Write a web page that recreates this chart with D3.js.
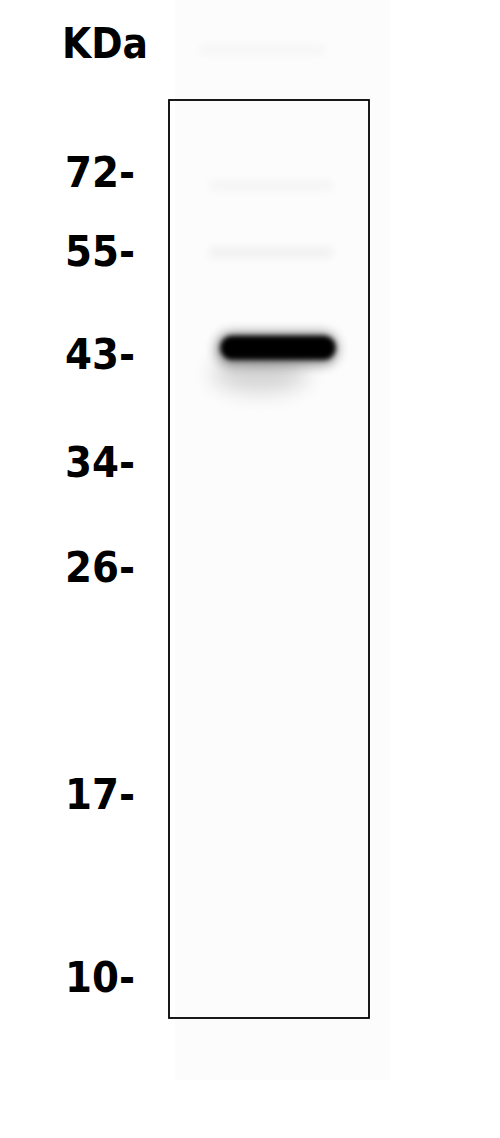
<!DOCTYPE html>
<html>
<head>
<meta charset="utf-8">
<script src="https://cdn.jsdelivr.net/npm/d3@7"></script>
<style>
  body { margin: 0; background: #fff; }
  .marker-label { font-family: "DejaVu Sans", Verdana, sans-serif; font-weight: bold; fill: #000; }
</style>
</head>
<body>
<svg id="blot" width="500" height="1138"></svg>
<script>
// marker ladder: kDa and relative mobility (0 = top of membrane, 1 = bottom)
const markerKDa = [72, 55, 43, 34, 26, 17, 10];
const markerRf = [0.078, 0.164, 0.276, 0.394, 0.508, 0.756, 0.955];

// lanes and detected bands
const lanes = ["lane1"];
const bandLane = ["lane1", "lane1", "lane1"];
const bandRf = [0.270, 0.166, 0.093];
const bandIntensity = [1, 0.05, 0.03];

const svg = d3.select("#blot");
const margin = { top: 100, left: 169, right: 131, bottom: 120 };
const boxW = 500 - margin.left - margin.right;
const boxH = 1138 - margin.top - margin.bottom;

const yScale = d3.scaleLinear().domain([0, 1]).range([margin.top, margin.top + boxH]);
const xScale = d3.scaleBand().domain(lanes).range([margin.left, margin.left + boxW]).paddingInner(0).paddingOuter(0.25);

const defs = svg.append("defs");
const addBlur = (id, sd) => defs.append("filter").attr("id", id)
  .attr("x", "-50%").attr("y", "-200%").attr("width", "200%").attr("height", "500%")
  .append("feGaussianBlur").attr("stdDeviation", sd);
addBlur("blur-core", 2.5);
addBlur("blur-halo", 6);
addBlur("blur-smear", 11);
addBlur("blur-faint", 5);

// faint membrane background beyond the frame
svg.append("rect")
  .attr("x", margin.left + 6).attr("y", 0)
  .attr("width", 215).attr("height", 1080)
  .attr("fill", "#fcfcfc");

const bands = bandRf.map((rf, i) => ({ lane: bandLane[i], rf, intensity: bandIntensity[i] }));
const g = svg.append("g");

bands.forEach(d => {
  const cx = xScale(d.lane) + xScale.bandwidth() / 2 + 9;
  const cy = yScale(d.rf);
  const w = xScale.bandwidth() * 0.865;
  if (d.intensity > 0.5) {
    // diffuse trail below the band
    g.append("ellipse")
      .attr("cx", cx - 18).attr("cy", cy + 26)
      .attr("rx", w * 0.42).attr("ry", 18)
      .attr("fill", "#000").attr("opacity", 0.16)
      .attr("filter", "url(#blur-smear)");
    // soft halo around the band
    g.append("rect")
      .attr("x", cx - w / 2 - 4).attr("y", cy - 15)
      .attr("width", w + 6).attr("height", 32)
      .attr("rx", 15)
      .attr("fill", "#000").attr("opacity", 0.45)
      .attr("filter", "url(#blur-halo)");
    g.append("rect")
      .attr("x", cx - w / 2).attr("y", cy - 12)
      .attr("width", w).attr("height", 24)
      .attr("rx", 12)
      .attr("fill", "#000").attr("opacity", d.intensity)
      .attr("filter", "url(#blur-core)");
  } else {
    g.append("rect")
      .attr("x", cx - w / 2 - 12).attr("y", cy - 5)
      .attr("width", w + 10).attr("height", 10)
      .attr("rx", 5)
      .attr("fill", "#000").attr("opacity", d.intensity)
      .attr("filter", "url(#blur-faint)");
  }
});

// faint band above the frame (well region)
svg.append("rect")
  .attr("x", 200).attr("y", 46).attr("width", 125).attr("height", 8)
  .attr("fill", "#000").attr("opacity", 0.03)
  .attr("filter", "url(#blur-faint)");

// frame
svg.append("rect")
  .attr("x", margin.left).attr("y", margin.top)
  .attr("width", boxW).attr("height", boxH)
  .attr("fill", "none").attr("stroke", "#000").attr("stroke-width", 1.8);

// marker labels
const fontSize = 42;
svg.selectAll("text.marker-label")
  .data(markerKDa.map((k, i) => ({ k, rf: markerRf[i] })))
  .enter()
  .append("text")
  .attr("class", "marker-label")
  .attr("x", 135)
  .attr("y", d => yScale(d.rf) + fontSize * 0.365)
  .attr("text-anchor", "end")
  .attr("font-size", fontSize)
  .attr("textLength", 70)
  .attr("lengthAdjust", "spacingAndGlyphs")
  .text(d => d.k + "-");

svg.append("text")
  .attr("class", "marker-label")
  .attr("x", 62).attr("y", 58)
  .attr("font-size", fontSize)
  .attr("textLength", 86)
  .attr("lengthAdjust", "spacingAndGlyphs")
  .text("KDa");
</script>
</body>
</html>
